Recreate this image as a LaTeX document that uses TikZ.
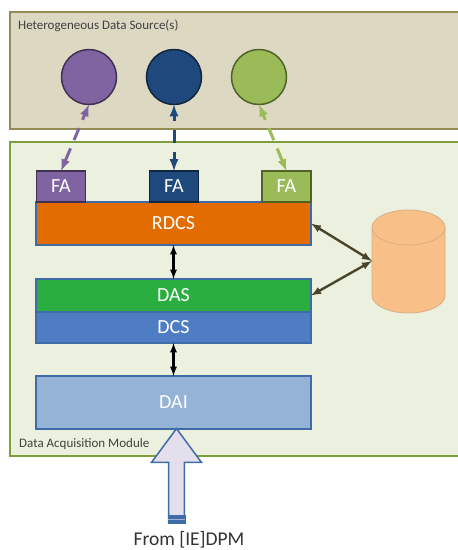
\documentclass[tikz,border=0pt]{standalone}
\usepackage{fontspec}
\setmainfont{Carlito}
\usetikzlibrary{arrows, shapes.arrows}

\definecolor{srcfill}{HTML}{DDD8C2}
\definecolor{srcline}{HTML}{948A54}
\definecolor{modfill}{HTML}{EBF1DE}
\definecolor{modline}{HTML}{7F9F3F}
\definecolor{pfill}{HTML}{8064A2}
\definecolor{pline}{HTML}{403152}
\definecolor{bfill}{HTML}{1F497D}
\definecolor{bline}{HTML}{10253F}
\definecolor{gfill}{HTML}{9BBB59}
\definecolor{gline}{HTML}{4F6228}
\definecolor{boxline}{HTML}{3F6CA6}
\definecolor{dbfill}{HTML}{F8BF88}
\definecolor{dbline}{HTML}{D9AE86}
\definecolor{linkcol}{HTML}{4A452A}
\definecolor{rdcsfill}{HTML}{E26C00}
\definecolor{dasfill}{HTML}{2BAE40}
\definecolor{dcsfill}{HTML}{4E7DC3}
\definecolor{daifill}{HTML}{95B3D7}
\definecolor{inputfill}{HTML}{E4DFEC}

\tikzset{
  panel/.style={draw, line width=1.8pt, inner sep=0pt, outer sep=0pt},
  panellabel/.style={inner sep=0pt, font=\fontsize{13}{15}\selectfont, text=black!75},
  layer/.style={draw=boxline, line width=1.2pt, minimum width=275, inner sep=0pt, outer sep=0pt, text=white, font=\fontsize{20}{22}\selectfont},
  fabox/.style={draw, line width=1.5pt, minimum width=49, minimum height=31, inner sep=0pt, outer sep=0pt, text=white, font=\fontsize{20}{22}\selectfont},
  source/.style={circle, draw, line width=1.5pt, minimum size=55, inner sep=0pt, outer sep=0pt},
  faarrow/.style={latex-latex, line width=3pt, dash pattern=on 6pt off 9pt on 13pt off 9pt on 40pt off 1pt},
  linkarrow/.style={latex-latex, line width=2.2pt, black},
  dbarrow/.style={latex-latex, line width=2.4pt, linkcol}
}

\begin{document}
\begin{tikzpicture}[x=1pt, y=-1pt]
\useasboundingbox (0,0) rectangle (458,550);

% panels
\node[panel, draw=srcline, fill=srcfill, minimum width=460, minimum height=117] (sources) at (240,70.5) {};
\node[panel, draw=modline, fill=modfill, minimum width=460, minimum height=314] (module) at (240,299) {};
\node[panellabel, anchor=west] (srclabel) at (18,26) {Heterogeneous Data Source(s)};
\node[panellabel, anchor=west] (modlabel) at (19,444) {Data Acquisition Module};

% layers
\node[layer, fill=rdcsfill, minimum height=43] (rdcs) at (173.5,223.5) {RDCS};
\node[layer, fill=dasfill, minimum height=33] (das) at (173.5,295.5) {DAS};
\node[layer, fill=dcsfill, minimum height=31] (dcs) at (173.5,327.5) {DCS};
\node[layer, fill=daifill, minimum height=53] (dai) at (173.5,402.5) {DAI};

% sources and their adapters
\foreach \n/\sx/\fx/\c in {a/89/61/p, b/174/174/b, c/259/286.5/g}
{
  \node[source, draw=\c line, fill=\c fill] (src\n) at (\sx,77) {};
  \node[fabox, draw=\c line, fill=\c fill] (fa\n) at (\fx,186.5) {FA};
  \draw[faarrow, \c fill] (src\n.south) -- (fa\n.north);
}

% storage
\draw[draw=dbline, fill=dbfill, line width=.8pt] (372,227.5) arc[start angle=180, end angle=360, x radius=36.5, y radius=17.5]
  -- (445,295.5) arc[start angle=0, end angle=180, x radius=36.5, y radius=17.5] -- cycle;
\draw[draw=dbline, line width=.8pt] (372,227.5) arc[start angle=180, end angle=0, x radius=36.5, y radius=17.5];
\coordinate (store) at (372,261);

\draw[dbarrow] (rdcs.east) -- (store);
\draw[dbarrow] (das.east) -- (store);
\draw[linkarrow] (rdcs) -- (das);
\draw[linkarrow] (dcs) -- (dai);

% input
\node[single arrow, shape border rotate=90, draw=boxline, line width=1.5pt, fill=inputfill, minimum height=94, minimum width=50, single arrow head extend=16.5, single arrow tip angle=73, single arrow head indent=0pt, inner sep=0pt, outer sep=0pt, text width=14] (input) at (176.5,481) {};
\node[draw=boxline, fill=boxline, minimum width=17, minimum height=8, inner sep=0pt] (inputend) at (176.5,519) {};
\draw[inputfill!60!boxline, line width=1pt] (inputend.west) -- (inputend.east);
\node[inner sep=0pt, font=\fontsize{19.5}{22}\selectfont, text=black!80] (fromlabel) at (189,540) {From [IE]DPM};
\end{tikzpicture}
\end{document}
